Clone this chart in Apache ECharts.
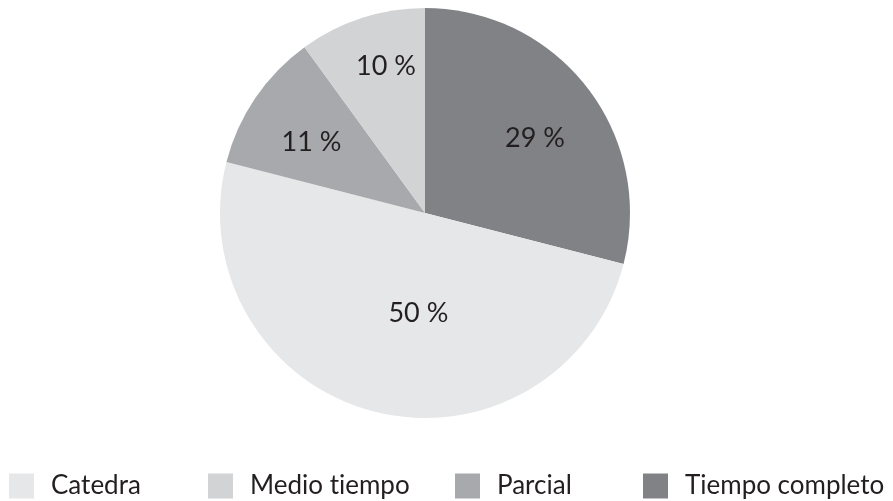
<!DOCTYPE html>
<html>
<head>
<meta charset="utf-8">
<script src="https://cdn.jsdelivr.net/npm/echarts@6/dist/echarts.min.js"></script>
<style>
  html, body { margin: 0; padding: 0; background: #ffffff; }
  #chart { width: 893px; height: 501px; }
</style>
</head>
<body>
<div id="chart"></div>
<script>
// Dedication types, in slice order (clockwise from 12 o'clock)
const categories = ['Tiempo completo', 'Catedra', 'Parcial', 'Medio tiempo'];
const shares = [29, 50, 11, 10];
// Legend reads left to right in this order
const legendOrder = ['Catedra', 'Medio tiempo', 'Parcial', 'Tiempo completo'];

const sliceColors = {
  'Tiempo completo': '#808285',
  'Catedra': '#e6e7e8',
  'Parcial': '#a7a9ac',
  'Medio tiempo': '#d1d3d4'
};
// Value label placement: [radius as fraction of pie radius, angular shift in degrees]
const labelPolar = [[0.649, 3.5], [0.489, -10.6], [0.652, -2.4], [0.740, 3.1]];

const CENTER = [425, 213];
const RADIUS = 205;
const FONT = 'Lato, "Open Sans", sans-serif';
const TEXT_COLOR = '#231f20';

const legendLeft = [9, 208, 455, 643];

// keep "t" and "i" as separate glyphs (no ligature)
const noLig = s => s.replace(/ti/g, 't\u200Ci');

const chart = echarts.init(document.getElementById('chart'), null, { renderer: 'canvas' });

const legends = legendOrder.map((name, i) => ({
  data: [name],
  left: legendLeft[i],
  top: 473,
  orient: 'horizontal',
  icon: 'rect',
  itemWidth: 25,
  itemHeight: 25,
  padding: 0,
  selectedMode: false,
  formatter: noLig,
  textStyle: {
    fontFamily: FONT,
    fontSize: 26,
    color: TEXT_COLOR,
    padding: [0, 0, 0, 12]
  }
}));

chart.setOption({
  animation: false,
  backgroundColor: '#ffffff',
  legend: legends,
  series: [{
    type: 'pie',
    center: CENTER,
    radius: RADIUS,
    startAngle: 90,
    clockwise: true,
    avoidLabelOverlap: false,
    label: {
      show: true,
      position: 'inside',
      formatter: p => p.value + ' %',
      fontFamily: FONT,
      fontSize: 27,
      color: TEXT_COLOR
    },
    labelLine: { show: false },
    labelLayout: function (params) {
      const r = params.labelRect;
      const cx = r.x + r.width / 2;
      const cy = r.y + r.height / 2;
      const ang = Math.atan2(cx - CENTER[0], CENTER[1] - cy);
      const [frac, shift] = labelPolar[params.dataIndex];
      const a = ang + shift * Math.PI / 180;
      const tx = CENTER[0] + Math.sin(a) * frac * RADIUS;
      const ty = CENTER[1] - Math.cos(a) * frac * RADIUS;
      return { dx: tx - cx, dy: ty - cy };
    },
    itemStyle: { borderWidth: 0 },
    emphasis: { disabled: true },
    data: categories.map((name, i) => ({
      name: name,
      value: shares[i],
      itemStyle: { color: sliceColors[name] }
    }))
  }]
});
</script>
</body>
</html>
